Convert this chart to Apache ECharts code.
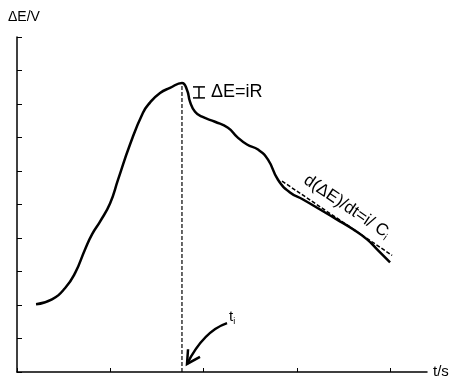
<!DOCTYPE html>
<html>
<head>
<meta charset="utf-8">
<script src="https://cdn.jsdelivr.net/npm/echarts@6/dist/echarts.min.js"></script>
<style>
html, body { margin: 0; padding: 0; background: #fff; }
#main { width: 452px; height: 377px; }
</style>
</head>
<body>
<div id="main"></div>
<script>
// potential curve, t in tick units, ΔE in tick units
var tVals = [0.204, 0.375, 0.514, 0.622, 0.729, 0.804, 0.890, 0.997, 1.083, 1.211, 1.350, 1.425, 1.533, 1.640, 1.768,
  1.822, 1.854, 1.908, 1.983, 2.122, 2.261, 2.358, 2.465, 2.583, 2.690, 2.797, 2.926, 3.065, 3.248, 3.430, 3.601, 3.751, 3.859, 3.998];
var eVals = [2.02, 2.17, 2.50, 2.95, 3.66, 4.11, 4.49, 5.03, 5.74, 6.79, 7.74, 8.04, 8.33, 8.48, 8.63,
  8.42, 8.07, 7.77, 7.62, 7.47, 7.29, 7.02, 6.79, 6.64, 6.34, 5.74, 5.36, 5.15, 4.85, 4.55, 4.26, 3.96, 3.66, 3.27];
// tangent (slope) line
var slopeT = [2.84, 4.02];
var slopeE = [5.70, 3.48];
// t_i and peak
var tI = 1.768;
var ePeak = 8.63;
var xTicks = [0, 1, 2, 3, 4];

var font = "'Liberation Sans', Arial, sans-serif";
var chart = echarts.init(document.getElementById('main'));

function pairs(a, b) {
  var out = [];
  for (var i = 0; i < a.length; i++) out.push([a[i], b[i]]);
  return out;
}

chart.setOption({
  animation: false,
  backgroundColor: '#fff',
  grid: { left: 17, right: 25, top: 37, bottom: 5, containLabel: false, outerBoundsMode: 'none' },
  xAxis: {
    type: 'value', min: 0, max: 4.394,
    name: 't/s', nameLocation: 'end', nameGap: 6,
    nameTextStyle: { color: '#000', fontSize: 15, fontFamily: font, padding: [0, 0, -6, 0] },
    axisLine: { lineStyle: { color: '#000', width: 1.5 } },
    axisTick: { inside: true, length: 4, lineStyle: { color: '#000', width: 1 }, customValues: xTicks },
    axisLabel: { show: false },
    splitLine: { show: false }
  },
  yAxis: {
    type: 'value', min: 0, max: 10, interval: 1,
    name: 'ΔE/V', nameLocation: 'end', nameGap: 13,
    nameTextStyle: { color: '#000', fontSize: 14, fontFamily: font, align: 'left', padding: [0, 0, 0, -9] },
    axisLine: { lineStyle: { color: '#000', width: 1.5 } },
    axisTick: { inside: true, length: 5, lineStyle: { color: '#000', width: 1 } },
    axisLabel: { show: false },
    splitLine: { show: false }
  },
  series: [
    {
      type: 'line', data: pairs(tVals, eVals), smooth: 0.5, symbol: 'none',
      lineStyle: { color: '#000', width: 2.5 }
    },
    {
      type: 'line', data: pairs(slopeT, slopeE), symbol: 'none',
      lineStyle: { color: '#000', width: 1.5, type: [4, 2] }
    },
    {
      type: 'line', data: [[tI, 0], [tI, ePeak]], symbol: 'none',
      lineStyle: { color: '#000', width: 1.2, type: [4, 2] }
    }
  ]
});

function px(x, y) { return chart.convertToPixel({ gridIndex: 0 }, [x, y]); }

// annotations
var pk = px(tI, ePeak);
var sA = px(slopeT[0], slopeE[0]), sB = px(slopeT[1], slopeE[1]);
var theta = Math.atan2(sB[1] - sA[1], sB[0] - sA[0]);
var mid = [(sA[0] + sB[0]) / 2, (sA[1] + sB[1]) / 2];
var off = 14;
var tail = px(2.251, 1.46), ctrl = px(2.00, 1.22), tip = px(1.822, 0.24);
var w1 = px(1.833, 0.68), w2 = px(1.961, 0.45);

chart.setOption({
  graphic: [
    // I-beam marker
    { type: 'polyline', shape: { points: [[pk[0] + 11, pk[1] + 4], [pk[0] + 23, pk[1] + 4]] }, style: { stroke: '#000', lineWidth: 1.5 } },
    { type: 'polyline', shape: { points: [[pk[0] + 17, pk[1] + 4], [pk[0] + 17, pk[1] + 15]] }, style: { stroke: '#000', lineWidth: 1.5 } },
    { type: 'polyline', shape: { points: [[pk[0] + 11, pk[1] + 15], [pk[0] + 23, pk[1] + 15]] }, style: { stroke: '#000', lineWidth: 1.5 } },
    {
      type: 'text', x: pk[0] + 29, y: pk[1] + 9,
      style: { text: 'ΔE=iR', fill: '#000', font: '18px ' + font, textVerticalAlign: 'middle' }
    },
    {
      type: 'text',
      x: mid[0] + off * Math.sin(theta) + 2, y: mid[1] - off * Math.cos(theta),
      rotation: -theta,
      style: {
        text: 'd(ΔE)/dt=i/ C{s|i}', fill: '#000', font: '17px ' + font,
        textAlign: 'center', textVerticalAlign: 'middle',
        rich: { s: { fontSize: 10, fontFamily: font, padding: [9, 0, 0, 0] } }
      }
    },
    // arrow to t_i
    { type: 'bezierCurve', shape: { x1: tail[0], y1: tail[1], cpx1: ctrl[0], cpy1: ctrl[1], x2: tip[0], y2: tip[1] }, style: { stroke: '#000', fill: null, lineWidth: 2.5 } },
    { type: 'polyline', shape: { points: [w1, tip, w2] }, style: { stroke: '#000', lineWidth: 2.5 } },
    {
      type: 'text', x: tail[0] + 2, y: tail[1] - 6,
      style: { text: 't{s|i}', fill: '#000', font: '15px ' + font, textVerticalAlign: 'middle',
        rich: { s: { fontSize: 9, fontFamily: font, padding: [8, 0, 0, 0] } } }
    }
  ]
});
</script>
</body>
</html>
